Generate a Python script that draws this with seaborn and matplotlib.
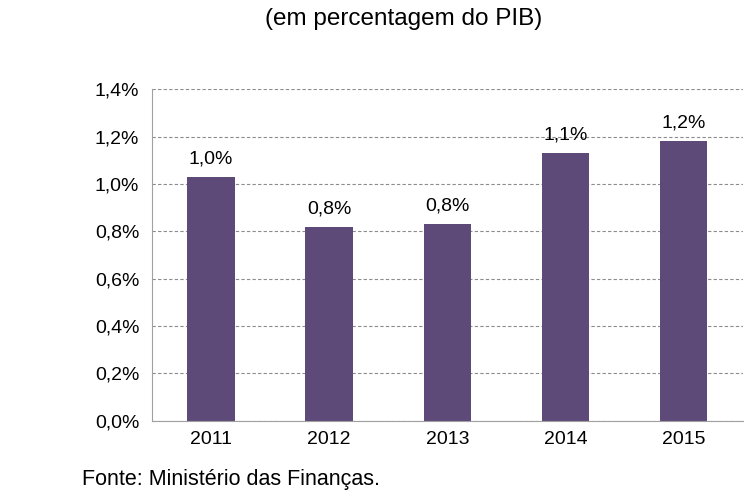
import matplotlib
matplotlib.use("Agg")
import matplotlib.pyplot as plt
import seaborn as sns
import pandas as pd
from matplotlib.ticker import FuncFormatter, FixedLocator

# Data
anos = ["2011", "2012", "2013", "2014", "2015"]
valores = [1.03, 0.82, 0.83, 1.13, 1.18]
rotulos = ["1,0%", "0,8%", "0,8%", "1,1%", "1,2%"]
yticks = [0.0, 0.2, 0.4, 0.6, 0.8, 1.0, 1.2, 1.4]

df = pd.DataFrame({"ano": anos, "valor": valores})

sns.set_style("white")
plt.rcParams["font.family"] = ["Liberation Sans", "DejaVu Sans"]
plt.rcParams["text.color"] = "black"
plt.rcParams["xtick.labelcolor"] = "black"
plt.rcParams["ytick.labelcolor"] = "black"

fig = plt.figure(figsize=(7.55, 5.04), dpi=100)
ax = fig.add_axes([0.201, 0.165, 0.783, 0.658])

sns.barplot(data=df, x="ano", y="valor", color="#5E4A79", width=0.4,
            saturation=1, linewidth=0, ax=ax)

ax.set_ylim(0, 1.4)
ax.set_xlim(-0.5, len(anos) - 0.5)
ax.set_yticks(yticks)
ax.yaxis.set_major_formatter(FuncFormatter(lambda v, p: f"{v:.1f}%".replace(".", ",")))
ax.yaxis.grid(True, linestyle=(0, (3, 2)), color="#8C8C8C", linewidth=0.8)
ax.set_axisbelow(True)

ax.xaxis.set_minor_locator(FixedLocator([i - 0.5 for i in range(len(anos) + 1)]))
ax.tick_params(axis="x", which="major", length=0, labelsize=14, pad=7, labelcolor="black")
ax.tick_params(axis="x", which="minor", length=5, color="#A0A0A0", width=0.8)
ax.tick_params(axis="y", length=5, color="#A0A0A0", width=0.8, labelsize=14, pad=4,
               labelcolor="black")
ax.set_xlabel("")
ax.set_ylabel("")

for s in ["top", "right"]:
    ax.spines[s].set_visible(False)
for s in ["left", "bottom"]:
    ax.spines[s].set_color("#A0A0A0")
    ax.spines[s].set_linewidth(0.8)

for i, (v, r) in enumerate(zip(valores, rotulos)):
    ax.text(i, v + 0.04, r, ha="center", va="bottom", fontsize=14, color="black")

fig.text(0.535, 0.963, "(em percentagem do PIB)", ha="center", va="center",
         fontsize=17.5, color="black")
fig.text(0.108, 0.048, "Fonte: Ministério das Finanças.", ha="left", va="center",
         fontsize=15.5, color="black")

fig.savefig("out.png", dpi=100)
